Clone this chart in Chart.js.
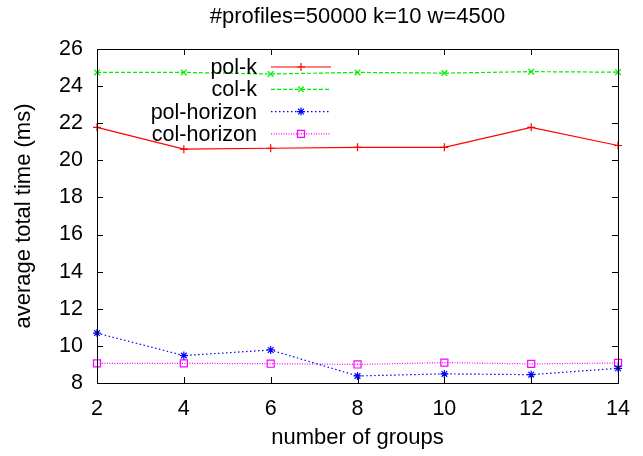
<!DOCTYPE html>
<html>
<head>
<meta charset="utf-8">
<script src="https://cdn.jsdelivr.net/npm/chart.js@4/dist/chart.umd.min.js"></script>
<style>
html,body{margin:0;padding:0;background:#fff}
#wrap{width:643px;height:456px}
</style>
</head>
<body>
<div id="wrap"><canvas id="grafico"></canvas></div>
<script>
// Datos: tiempo medio total (ms) por número de grupos
const grupos      = [2, 4, 6, 8, 10, 12, 14];
const polK        = [21.78, 20.60, 20.65, 20.70, 20.70, 21.78, 20.80];
const colK        = [24.74, 24.74, 24.65, 24.74, 24.70, 24.78, 24.75];
const polHorizon  = [10.69, 9.48, 9.78, 8.38, 8.49, 8.45, 8.79];
const colHorizon  = [9.06, 9.06, 9.04, 9.00, 9.10, 9.03, 9.08];
const nombres     = ['pol-k', 'col-k', 'pol-horizon', 'col-horizon'];
const xTicks      = [2, 4, 6, 8, 10, 12, 14];
const yTicks      = [8, 10, 12, 14, 16, 18, 20, 22, 24, 26];

const FUENTE = 'Liberation Sans, Arial, Helvetica, sans-serif';

// estilo de cada serie (al estilo gnuplot)
const estilos = [
  { color:'#ff0000', dash:[],        punto:'cross',    r:4 },
  { color:'#00ee00', dash:[4,2],     punto:'crossRot', r:4 },
  { color:'#0000ff', dash:[1.5,2.5], punto:'star',     r:4 },
  { color:'#ff00ff', dash:[1,1.5],   punto:'rect',     r:5 },
];

const series = [polK, colK, polHorizon, colHorizon];

const datasets = series.map((vals, i) => ({
  label: nombres[i],
  data: grupos.map((g, j) => ({ x: g, y: vals[j] })),
  borderColor: estilos[i].color,
  backgroundColor: 'transparent',
  borderWidth: 1.2,
  borderDash: estilos[i].dash,
  pointStyle: estilos[i].punto,
  pointRadius: estilos[i].r,
  pointBorderColor: estilos[i].color,
  pointBackgroundColor: 'transparent',
  pointBorderWidth: 1.2,
  tension: 0,
  clip: false,
}));

// Marco completo, ticks hacia dentro (en los cuatro lados) y leyenda dentro del área
const marcoPlugin = {
  id: 'marco',
  afterDatasetsDraw(chart){
    const ctx = chart.ctx;
    const a = chart.chartArea;
    const xs = chart.scales.x, ys = chart.scales.y;
    ctx.save();
    ctx.strokeStyle = '#000';
    ctx.lineWidth = 1;
    ctx.setLineDash([]);
    ctx.beginPath();
    xTicks.forEach(v => {
      const px = Math.round(xs.getPixelForValue(v)) + 0.5;
      ctx.moveTo(px, a.bottom); ctx.lineTo(px, a.bottom - 6);
      ctx.moveTo(px, a.top);    ctx.lineTo(px, a.top + 6);
    });
    yTicks.forEach(v => {
      const py = Math.round(ys.getPixelForValue(v)) + 0.5;
      ctx.moveTo(a.left, py);  ctx.lineTo(a.left + 6, py);
      ctx.moveTo(a.right, py); ctx.lineTo(a.right - 6, py);
    });
    ctx.stroke();
    ctx.strokeRect(Math.round(a.left) + 0.5, Math.round(a.top) + 0.5,
                   Math.round(a.right - a.left), Math.round(a.bottom - a.top));

    // leyenda
    ctx.font = '21.5px ' + FUENTE;
    ctx.textAlign = 'right';
    ctx.textBaseline = 'middle';
    chart.data.datasets.forEach((ds, i) => {
      const y = 67 + i * 22.3;
      ctx.fillStyle = '#000';
      ctx.fillText(ds.label, 257, y + 1);
      ctx.strokeStyle = ds.borderColor;
      ctx.lineWidth = ds.borderWidth;
      ctx.setLineDash(ds.borderDash);
      ctx.beginPath();
      ctx.moveTo(271, y); ctx.lineTo(331, y);
      ctx.stroke();
      ctx.setLineDash([]);
      ctx.fillStyle = 'rgba(0,0,0,0)';
      Chart.helpers.drawPoint(ctx, {
        pointStyle: ds.pointStyle, radius: ds.pointRadius,
        rotation: 0, borderWidth: ds.pointBorderWidth
      }, 301, y);
    });
    ctx.restore();
  }
};

new Chart(document.getElementById('grafico'), {
  type: 'line',
  data: { datasets },
  options: {
    responsive: true,
    maintainAspectRatio: false,
    animation: false,
    devicePixelRatio: 1,
    layout: { padding: { left: 0, right: 17, top: 0, bottom: 0 } },
    plugins: {
      legend: { display: false },
      tooltip: { enabled: false },
      title: {
        display: true,
        fullSize: false,
        text: '#profiles=50000 k=10 w=4500',
        color: '#000',
        font: { family: FUENTE, size: 22, weight: 'normal' },
        padding: { top: 3.8, bottom: 18.8 }
      }
    },
    scales: {
      x: {
        type: 'linear',
        min: 2, max: 14,
        afterFit: s => { s.height = 73; },
        afterBuildTicks: s => { s.ticks = xTicks.map(v => ({ value: v })); },
        grid: { display: false, drawTicks: false },
        border: { display: false },
        ticks: { color: '#000', padding: 13, font: { family: FUENTE, size: 21.5 }, maxRotation: 0 },
        title: {
          display: true, text: 'number of groups', color: '#000',
          font: { family: FUENTE, size: 22 }, padding: { top: 4.8, bottom: 4.8 }
        }
      },
      y: {
        type: 'linear',
        min: 8, max: 26,
        afterFit: s => { s.width = 97; },
        afterBuildTicks: s => { s.ticks = yTicks.map(v => ({ value: v })); },
        grid: { display: false, drawTicks: false },
        border: { display: false },
        ticks: { color: '#000', padding: 14, font: { family: FUENTE, size: 21.5 } },
        title: {
          display: true, text: 'average total time (ms)', color: '#000',
          font: { family: FUENTE, size: 22 }, padding: { top: 10.8, bottom: 10.8 }
        }
      }
    }
  },
  plugins: [marcoPlugin]
});
</script>
</body>
</html>
